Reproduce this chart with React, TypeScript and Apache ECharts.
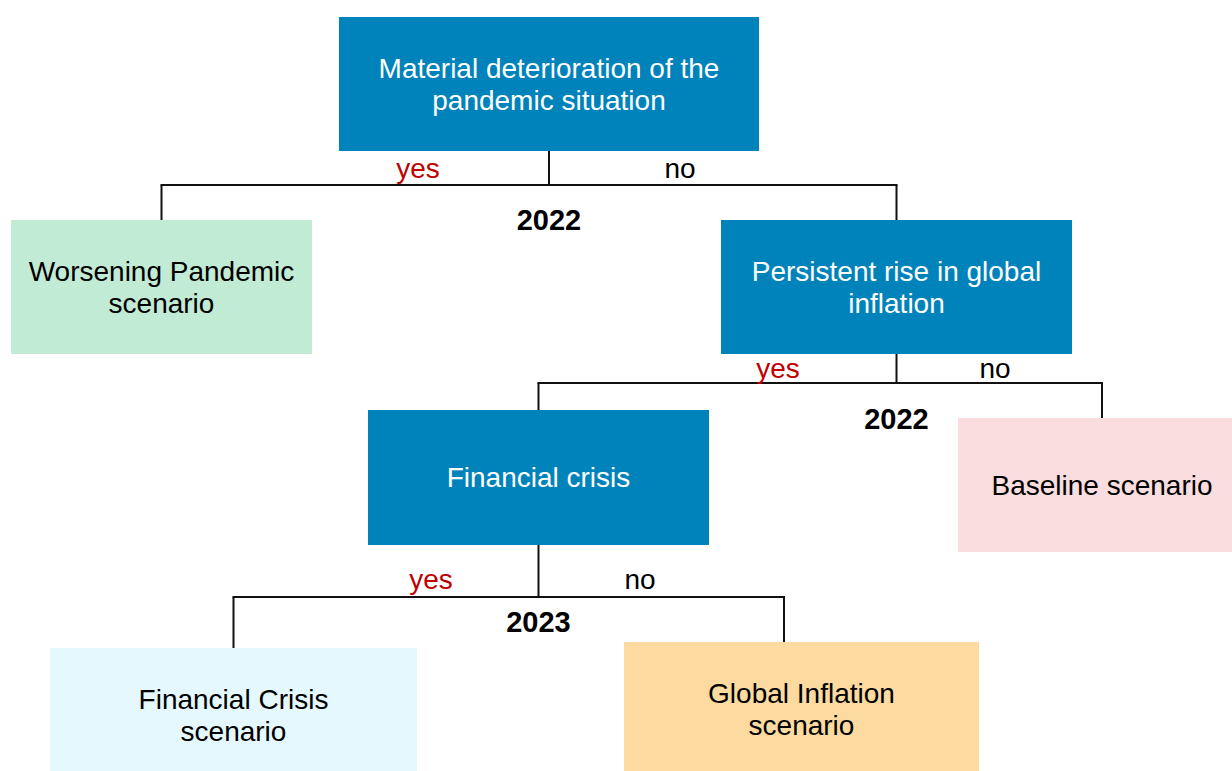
import React, { useEffect, useRef } from "react";
import * as echarts from "echarts";

// ---- Diagram content ----
const nodeLabels = [
  "Material deterioration of the\npandemic situation",
  "Worsening Pandemic\nscenario",
  "Persistent rise in global\ninflation",
  "Baseline scenario",
  "Financial crisis",
  "Financial Crisis\nscenario",
  "Global Inflation\nscenario",
];
const nodeKinds = ["question", "pandemic", "question", "baseline", "question", "crisis", "inflation"];
const branchYears = ["2022", "2022", "2023"];
const yesLabel = "yes";
const noLabel = "no";

// ---- Layout (pixel space of the drawing area) ----
const boxLayout = [
  [339, 17, 759, 151],
  [11, 220, 312, 354],
  [721, 220, 1072, 354],
  [958, 418, 1246, 552],
  [368, 410, 709, 545],
  [50, 648, 417, 782],
  [624, 642, 979, 776],
];
// branch: parent box index, yes/no child index, bar y, x of the drop lines, label positions
const branchLayout = [
  { parent: 0, yes: 1, no: 2, barY: 185, yesLineX: 161.5, noLineX: 896.5, yesX: 418, noX: 680, labelY: 168, yearY: 220 },
  { parent: 2, yes: 4, no: 3, barY: 383, yesLineX: 538.5, noLineX: 1102, yesX: 778, noX: 995, labelY: 368, yearY: 419 },
  { parent: 4, yes: 5, no: 6, barY: 597, yesLineX: 233.5, noLineX: 784, yesX: 431, noX: 640, labelY: 579, yearY: 622 },
];

const kindStyle: Record<string, { fill: string; text: string }> = {
  question: { fill: "#0083BB", text: "#FFFFFF" },
  pandemic: { fill: "#C2EBD6", text: "#000000" },
  baseline: { fill: "#FADEDF", text: "#000000" },
  crisis: { fill: "#E4F8FE", text: "#000000" },
  inflation: { fill: "#FCDAA0", text: "#000000" },
};

const FONT = "'Liberation Sans', Arial, sans-serif";
const LINE = "#111111";

export default function App() {
  const ref = useRef<HTMLDivElement>(null);

  useEffect(() => {
    if (!ref.current) return;
    const chart = echarts.init(ref.current, undefined, { renderer: "svg" });

    const boxData = nodeLabels.map((_, i) => [i]);
    const branchData = branchYears.map((_, i) => [i]);

    const option: any = {
      animation: false,
      backgroundColor: "#ffffff",
      grid: { left: 0, right: 0, top: 0, bottom: 0 },
      xAxis: { type: "value", min: 0, max: 1232, show: false },
      yAxis: { type: "value", min: 0, max: 771, inverse: true, show: false },
      series: [
        {
          type: "custom",
          name: "connectors",
          data: branchData,
          silent: true,
          renderItem: (params: any, api: any) => {
            const b = branchLayout[params.dataIndex];
            const pb = boxLayout[b.parent];
            const yb = boxLayout[b.yes];
            const nb = boxLayout[b.no];
            const px = (pb[0] + pb[2]) / 2;
            const yx = b.yesLineX;
            const nx = b.noLineX;
            const seg = (a: number[], c: number[]) => {
              const p = api.coord(a);
              const q = api.coord(c);
              return {
                type: "line",
                shape: { x1: p[0], y1: p[1], x2: q[0], y2: q[1] },
                style: { stroke: LINE, lineWidth: 2 },
              };
            };
            const txt = (x: number, y: number, text: string, fill: string, bold: boolean, size: number) => {
              const p = api.coord([x, y]);
              return {
                type: "text",
                style: {
                  text,
                  x: p[0],
                  y: p[1],
                  align: "center",
                  verticalAlign: "middle",
                  fill,
                  fontFamily: FONT,
                  fontSize: size,
                  fontWeight: bold ? "bold" : "normal",
                },
              };
            };
            return {
              type: "group",
              children: [
                seg([px, pb[3]], [px, b.barY]),
                seg([Math.min(yx, nx) - 1, b.barY], [Math.max(yx, nx) + 1, b.barY]),
                seg([yx, b.barY], [yx, yb[1]]),
                seg([nx, b.barY], [nx, nb[1]]),
                txt(b.yesX, b.labelY, yesLabel, "#C00000", false, 28),
                txt(b.noX, b.labelY, noLabel, "#000000", false, 28),
                txt(px, b.yearY, branchYears[params.dataIndex], "#000000", true, 29),
              ],
            };
          },
        },
        {
          type: "custom",
          name: "boxes",
          data: boxData,
          silent: true,
          renderItem: (params: any, api: any) => {
            const i = params.dataIndex;
            const b = boxLayout[i];
            const p0 = api.coord([b[0], b[1]]);
            const p1 = api.coord([b[2], b[3]]);
            const st = kindStyle[nodeKinds[i]];
            return {
              type: "group",
              children: [
                {
                  type: "rect",
                  shape: { x: p0[0], y: p0[1], width: p1[0] - p0[0], height: p1[1] - p0[1] },
                  style: { fill: st.fill },
                },
                {
                  type: "text",
                  style: {
                    text: nodeLabels[i],
                    x: (p0[0] + p1[0]) / 2,
                    y: (p0[1] + p1[1]) / 2,
                    align: "center",
                    verticalAlign: "middle",
                    fill: st.text,
                    fontFamily: FONT,
                    fontSize: 28,
                    lineHeight: 32,
                  },
                },
              ],
            };
          },
        },
      ],
    };

    chart.setOption(option);
    return () => chart.dispose();
  }, []);

  return (
    <div
      ref={ref}
      style={{ position: "fixed", left: 0, top: 0, width: 1232, height: 771, background: "#fff" }}
    />
  );
}
